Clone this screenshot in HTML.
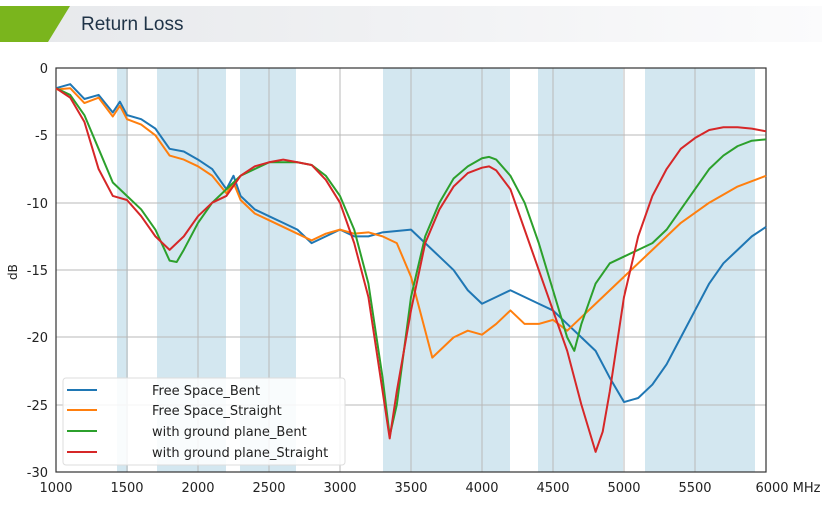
<!DOCTYPE html>
<html><head><meta charset="utf-8"><style>
body{margin:0;width:822px;height:505px;background:#fff;overflow:hidden;font-family:"Liberation Sans",sans-serif}
</style></head><body>
<svg width="822" height="505" viewBox="0 0 822 505" xmlns="http://www.w3.org/2000/svg">
<defs><linearGradient id="hg" x1="0" x2="1"><stop offset="0" stop-color="#e6e8eb"/><stop offset="1" stop-color="#fbfbfc"/></linearGradient></defs>
<rect x="0" y="6" width="822" height="36" fill="url(#hg)"/>
<polygon points="0,6 70,6 48,42 0,42" fill="#7ab51d"/>
<text x="81" y="30" font-size="19" fill="#1f3347">Return Loss</text>
<g fill="#d3e7f0">
<rect x="117" y="68" width="11" height="404"/>
<rect x="157" y="68" width="69" height="404"/>
<rect x="240" y="68" width="56" height="404"/>
<rect x="383" y="68" width="127" height="404"/>
<rect x="538" y="68" width="85" height="404"/>
<rect x="645" y="68" width="110" height="404"/>
</g>
<g stroke="#b8b8b8" stroke-width="1">
<line x1="127" y1="68" x2="127" y2="472"/><line x1="198" y1="68" x2="198" y2="472"/><line x1="269" y1="68" x2="269" y2="472"/><line x1="340" y1="68" x2="340" y2="472"/><line x1="411" y1="68" x2="411" y2="472"/><line x1="482" y1="68" x2="482" y2="472"/><line x1="553" y1="68" x2="553" y2="472"/><line x1="624" y1="68" x2="624" y2="472"/><line x1="695" y1="68" x2="695" y2="472"/>
<line x1="56" y1="135" x2="766" y2="135"/><line x1="56" y1="203" x2="766" y2="203"/><line x1="56" y1="270" x2="766" y2="270"/><line x1="56" y1="337" x2="766" y2="337"/><line x1="56" y1="405" x2="766" y2="405"/>
</g>
<rect x="56" y="68" width="710" height="404" fill="none" stroke="#333" stroke-width="1.2"/>
<g fill="none" stroke-width="2" stroke-linejoin="round" transform="translate(56,68) scale(0.142,-13.47)">
<polyline vector-effect="non-scaling-stroke" stroke="#1f77b4" points="0,-1.5 100,-1.2 200,-2.3 300,-2 400,-3.3 450,-2.5 500,-3.5 600,-3.8 700,-4.5 800,-6 900,-6.2 1000,-6.8 1100,-7.5 1200,-9 1250,-8 1300,-9.5 1400,-10.5 1500,-11 1600,-11.5 1700,-12 1800,-13 1900,-12.5 2000,-12 2100,-12.5 2200,-12.5 2300,-12.2 2500,-12 2600,-13 2700,-14 2800,-15 2900,-16.5 3000,-17.5 3100,-17 3200,-16.5 3300,-17 3400,-17.5 3500,-18 3600,-19 3700,-20 3800,-21 3900,-23 4000,-24.8 4100,-24.5 4200,-23.5 4300,-22 4400,-20 4500,-18 4600,-16 4700,-14.5 4800,-13.5 4900,-12.5 5000,-11.8"/>
<polyline vector-effect="non-scaling-stroke" stroke="#ff7f0e" points="0,-1.6 100,-1.5 200,-2.6 300,-2.2 400,-3.6 450,-2.8 500,-3.8 600,-4.2 700,-5 800,-6.5 900,-6.8 1000,-7.3 1100,-8 1200,-9.3 1250,-8.5 1300,-9.8 1400,-10.8 1500,-11.3 1600,-11.8 1700,-12.3 1800,-12.8 1900,-12.3 2000,-12 2100,-12.3 2200,-12.2 2300,-12.5 2400,-13 2500,-15.5 2600,-19.5 2650,-21.5 2700,-21 2800,-20 2900,-19.5 3000,-19.8 3100,-19 3200,-18 3300,-19 3400,-19 3500,-18.7 3600,-19.5 3700,-18.5 3800,-17.5 3900,-16.5 4000,-15.5 4200,-13.5 4400,-11.5 4600,-10 4800,-8.8 5000,-8"/>
<polyline vector-effect="non-scaling-stroke" stroke="#2ca02c" points="0,-1.5 100,-2 200,-3.5 300,-6 400,-8.5 500,-9.5 600,-10.5 700,-12 800,-14.3 850,-14.4 900,-13.5 1000,-11.5 1100,-10 1200,-9 1300,-8 1400,-7.5 1500,-7 1600,-7 1700,-7 1800,-7.2 1900,-8 2000,-9.5 2100,-12 2200,-16 2300,-23 2350,-27.3 2400,-25 2500,-17 2600,-12.5 2700,-10 2800,-8.2 2900,-7.3 3000,-6.7 3050,-6.6 3100,-6.8 3200,-8 3300,-10 3400,-13 3500,-16.5 3600,-20 3650,-21 3700,-19 3800,-16 3900,-14.5 4000,-14 4100,-13.5 4200,-13 4300,-12 4400,-10.5 4500,-9 4600,-7.5 4700,-6.5 4800,-5.8 4900,-5.4 5000,-5.3"/>
<polyline vector-effect="non-scaling-stroke" stroke="#d62728" points="0,-1.5 100,-2.2 200,-4 300,-7.5 400,-9.5 500,-9.8 600,-11 700,-12.5 800,-13.5 900,-12.5 1000,-11 1100,-10 1200,-9.5 1300,-8 1400,-7.3 1500,-7 1600,-6.8 1700,-7 1800,-7.2 1900,-8.3 2000,-10 2100,-13 2200,-17 2300,-24 2350,-27.5 2400,-24 2500,-18 2600,-13 2700,-10.5 2800,-8.8 2900,-7.8 3000,-7.4 3050,-7.3 3100,-7.6 3200,-9 3300,-12 3400,-15 3500,-18 3600,-21 3700,-25 3800,-28.5 3850,-27 3900,-24 4000,-17 4100,-12.5 4200,-9.5 4300,-7.5 4400,-6 4500,-5.2 4600,-4.6 4700,-4.4 4800,-4.4 4900,-4.5 5000,-4.7"/>
</g>
<rect x="63" y="378" width="282" height="87" rx="3" fill="#fff" fill-opacity="0.85" stroke="#ddd"/>
<g stroke-width="2"><line x1="67" y1="390" x2="97" y2="390" stroke="#1f77b4"/><line x1="67" y1="410" x2="97" y2="410" stroke="#ff7f0e"/><line x1="67" y1="431" x2="97" y2="431" stroke="#2ca02c"/><line x1="67" y1="452" x2="97" y2="452" stroke="#d62728"/></g>
<g font-size="13" fill="#222" font-family="'DejaVu Sans',sans-serif"><text x="152" y="395">Free Space_Bent</text><text x="152" y="415">Free Space_Straight</text><text x="152" y="436">with ground plane_Bent</text><text x="152" y="457">with ground plane_Straight</text></g>
<g font-size="13" fill="#222" font-family="'DejaVu Sans',sans-serif" text-anchor="end">
<text x="48" y="73">0</text><text x="48" y="140">-5</text><text x="48" y="208">-10</text><text x="48" y="275">-15</text><text x="48" y="342">-20</text><text x="48" y="410">-25</text><text x="48" y="477">-30</text></g>
<g font-size="13" fill="#222" font-family="'DejaVu Sans',sans-serif" text-anchor="middle">
<text x="56" y="492">1000</text><text x="127" y="492">1500</text><text x="198" y="492">2000</text><text x="269" y="492">2500</text><text x="340" y="492">3000</text><text x="411" y="492">3500</text><text x="482" y="492">4000</text><text x="553" y="492">4500</text><text x="624" y="492">5000</text><text x="695" y="492">5500</text><text x="788" y="492">6000 MHz</text></g>
<text x="17" y="272" font-size="12" fill="#222" font-family="'DejaVu Sans',sans-serif" transform="rotate(-90 17 272)" text-anchor="middle">dB</text>
</svg>
</body></html>
